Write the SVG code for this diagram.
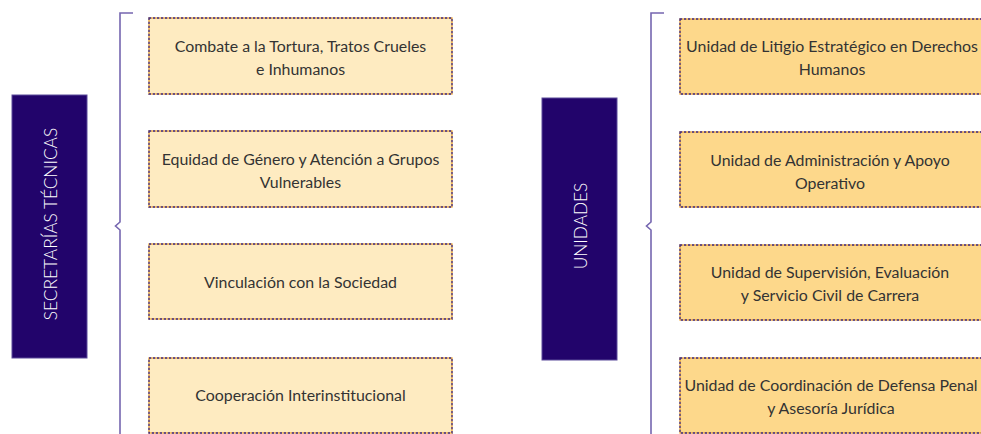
<svg xmlns="http://www.w3.org/2000/svg" width="981" height="434" viewBox="0 0 981 434">
<style>
.hdr{fill:#22046b;stroke:#5b4a9a;stroke-width:1}
.hdrt{font-family:Lato,"Open Sans",sans-serif;font-size:17.3px;fill:#ffffff;text-anchor:middle;font-weight:300}
.bl{fill:#feebc1}
.br{fill:#fdd88b}
.b1{fill:none;stroke:#f0a830;stroke-width:1.3}
.b2{fill:none;stroke:#3a2a8c;stroke-width:1.3;stroke-dasharray:2.2 1.8}
.t{font-family:Lato,"Open Sans",sans-serif;font-size:15.9px;fill:#333333;text-anchor:middle}
.br2{fill:none;stroke:#7566b0;stroke-width:1.6}
</style>
<g id="connectors">
<path class="br2" d="M133,13 H120 V222 L115.5,226 L120,230 V434"/>
<path class="br2" d="M664,13 H651 V222 L646.5,226 L651,230 V434"/>
</g>
<g id="secretarias">
<rect class="hdr" x="12" y="95" width="75" height="263"/>
<text class="hdrt" transform="translate(57,224) rotate(-90)">SECRETARÍAS TÉCNICAS</text>
</g>
<g id="l1"><rect class="bl" x="149" y="18" width="303" height="76"/><rect class="b1" x="149" y="18" width="303" height="76"/><rect class="b2" x="149" y="18" width="303" height="76"/>
<text class="t" x="300.5" y="52">Combate a la Tortura, Tratos Crueles</text><text class="t" x="300.5" y="75">e Inhumanos</text></g>
<g id="l2"><rect class="bl" x="149" y="131" width="303" height="76"/><rect class="b1" x="149" y="131" width="303" height="76"/><rect class="b2" x="149" y="131" width="303" height="76"/>
<text class="t" x="300.5" y="165">Equidad de Género y Atención a Grupos</text><text class="t" x="300.5" y="188">Vulnerables</text></g>
<g id="l3"><rect class="bl" x="149" y="244" width="303" height="75"/><rect class="b1" x="149" y="244" width="303" height="75"/><rect class="b2" x="149" y="244" width="303" height="75"/>
<text class="t" x="300.5" y="288">Vinculación con la Sociedad</text></g>
<g id="l4"><rect class="bl" x="149" y="358" width="303" height="75"/><rect class="b1" x="149" y="358" width="303" height="75"/><rect class="b2" x="149" y="358" width="303" height="75"/>
<text class="t" x="300.5" y="401">Cooperación Interinstitucional</text></g>
<g id="unidades">
<rect class="hdr" x="542" y="98" width="75" height="262"/>
<text class="hdrt" transform="translate(587,226) rotate(-90)">UNIDADES</text>
</g>
<g id="r1"><rect class="br" x="680" y="19" width="310" height="75"/><rect class="b1" x="680" y="19" width="310" height="75"/><rect class="b2" x="680" y="19" width="310" height="75"/>
<text class="t" x="832" y="52">Unidad de Litigio Estratégico en Derechos</text><text class="t" x="832" y="75">Humanos</text></g>
<g id="r2"><rect class="br" x="680" y="132" width="310" height="75"/><rect class="b1" x="680" y="132" width="310" height="75"/><rect class="b2" x="680" y="132" width="310" height="75"/>
<text class="t" x="830" y="166">Unidad de Administración y Apoyo</text><text class="t" x="830" y="189">Operativo</text></g>
<g id="r3"><rect class="br" x="680" y="245" width="310" height="75"/><rect class="b1" x="680" y="245" width="310" height="75"/><rect class="b2" x="680" y="245" width="310" height="75"/>
<text class="t" x="830" y="278">Unidad de Supervisión, Evaluación</text><text class="t" x="830" y="301">y Servicio Civil de Carrera</text></g>
<g id="r4"><rect class="br" x="680" y="358" width="310" height="75"/><rect class="b1" x="680" y="358" width="310" height="75"/><rect class="b2" x="680" y="358" width="310" height="75"/>
<text class="t" x="831" y="391">Unidad de Coordinación de Defensa Penal</text><text class="t" x="831" y="414">y Asesoría Jurídica</text></g>
</svg>
